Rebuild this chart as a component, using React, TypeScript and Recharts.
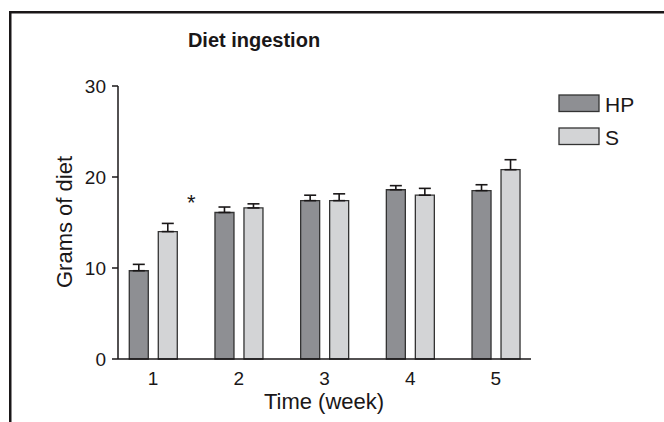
import { BarChart, Bar, XAxis, YAxis, ErrorBar, LabelList } from "recharts";

const weeks = [1, 2, 3, 4, 5];
const hpValues = [9.7, 16.1, 17.4, 18.6, 18.5];
const sValues = [14.0, 16.6, 17.4, 18.0, 20.8];
const hpErrors = [0.7, 0.6, 0.6, 0.45, 0.65];
const sErrors = [0.9, 0.45, 0.75, 0.75, 1.1];
const significant = [true, false, false, false, false];
const yTicks = [0, 10, 20, 30];

const series = [
  { key: "HP", err: "errHP", fill: "#8e8f93" },
  { key: "S", err: "errS", fill: "#d3d4d6" },
];

const data = weeks.map((week, i) => ({
  week,
  HP: hpValues[i],
  S: sValues[i],
  errHP: [0, hpErrors[i]],
  errS: [0, sErrors[i]],
}));

const font = "'Liberation Sans', Arial, sans-serif";
const ink = "#1a1718";

const Asterisk = (props: any) => {
  const { x, y, width, index } = props;
  if (!significant[index]) return null;
  return (
    <text x={x + width + 14} y={y - 22} textAnchor="middle" fontSize={22} fill={ink} fontFamily={font}>
      *
    </text>
  );
};

export default function App() {
  return (
    <div style={{ position: "absolute", left: 0, top: 0, width: 664, height: 422, overflow: "hidden", background: "#fff", fontFamily: font }}>
      <BarChart
        width={664}
        height={422}
        data={data}
        margin={{ top: 86, right: 133, bottom: 0, left: 0 }}
        barSize={19}
        barGap={10}
      >
        <XAxis
          dataKey="week"
          type="number"
          domain={[0.59, 5.41]}
          allowDataOverflow
          ticks={weeks}
          height={63}
          tickLine={false}
          tickSize={0}
          tickMargin={13}
          axisLine={{ stroke: ink, strokeWidth: 1.5 }}
          tick={{ fill: ink, fontSize: 19, fontFamily: font }}
          label={{
            content: () => (
              <text x={324} y={409} textAnchor="middle" fontSize={22} fill={ink} fontFamily={font}>
                Time (week)
              </text>
            ),
          }}
        />
        <YAxis
          type="number"
          domain={[0, 30]}
          ticks={yTicks}
          width={118}
          tickSize={6}
          tickMargin={6}
          axisLine={{ stroke: ink, strokeWidth: 1.5 }}
          tickLine={{ stroke: ink, strokeWidth: 1.5 }}
          tick={{ fill: ink, fontSize: 19, fontFamily: font }}
          label={{
            content: () => (
              <text x={64} y={222} transform="rotate(-90 64 222)" textAnchor="middle" dominantBaseline="central" fontSize={22} fill={ink} fontFamily={font}>
                Grams of diet
              </text>
            ),
          }}
        />
        {series.map((s) => (
          <Bar key={s.key} dataKey={s.key} fill={s.fill} stroke="#333" strokeWidth={1.3} isAnimationActive={false}>
            <ErrorBar dataKey={s.err} direction="y" width={6} stroke={ink} strokeWidth={1.6} />
            {s.key === "S" && <LabelList dataKey="S" content={Asterisk} />}
          </Bar>
        ))}
      </BarChart>
      <svg width={664} height={422} style={{ position: "absolute", left: 0, top: 0, pointerEvents: "none" }}>
        <rect x={10.25} y={12.25} width={700} height={500} fill="none" stroke={ink} strokeWidth={2.5} />
        <text x={254} y={47} textAnchor="middle" fontSize={20} fontWeight="bold" fill={ink} fontFamily={font}>
          Diet ingestion
        </text>
        {series.map((s, i) => (
          <g key={s.key}>
            <rect x={559} y={95 + i * 33} width={40} height={16.5} fill={s.fill} stroke="#333" strokeWidth={1.3} />
            <text x={605} y={112 + i * 33} fontSize={21} fill={ink} fontFamily={font}>
              {s.key}
            </text>
          </g>
        ))}
      </svg>
    </div>
  );
}
